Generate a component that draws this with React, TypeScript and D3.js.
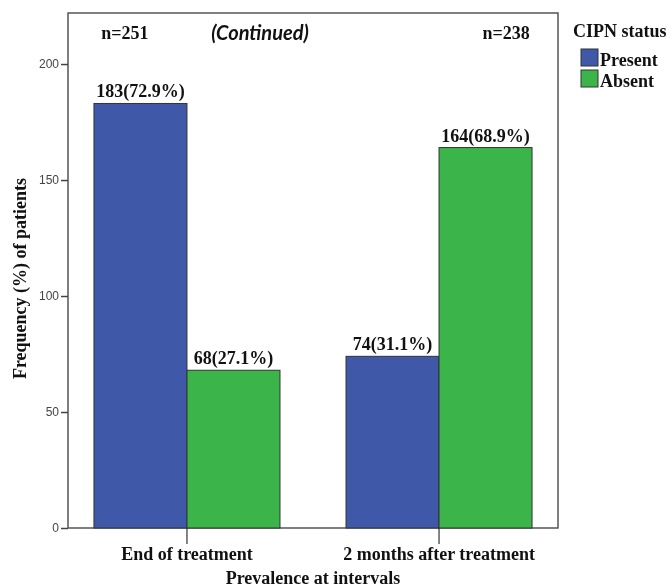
import { useRef, useEffect } from 'react';
import * as d3 from 'd3';

const categories = ['End of treatment', '2 months after treatment'];
const statuses = ['Present', 'Absent'];
const presentCounts = [183, 74];
const absentCounts = [68, 164];
const presentLabels = ['183(72.9%)', '74(31.1%)'];
const absentLabels = ['68(27.1%)', '164(68.9%)'];
const groupTotals = ['n=251', 'n=238'];
const yTicks = [0, 50, 100, 150, 200];
const colors = ['#3F58A8', '#3BB44A'];

const width = 672;
const height = 588;
const margin = { top: 13, right: 114, bottom: 60, left: 68 };

const Chart = () => {
  const svgRef = useRef(null);

  useEffect(() => {
    const svg = d3.select(svgRef.current);
    svg.selectAll('*').remove();

    const innerWidth = width - margin.left - margin.right;
    const innerHeight = height - margin.top - margin.bottom;
    const serif = '"Liberation Serif", "Times New Roman", serif';
    const sans = '"Liberation Sans", Arial, sans-serif';

    const g = svg
      .append('g')
      .attr('transform', `translate(${margin.left}, ${margin.top})`);

    const x0 = d3
      .scaleBand()
      .domain(categories)
      .range([0, innerWidth])
      .paddingInner(0.262)
      .paddingOuter(0.103);

    const x1 = d3
      .scaleBand()
      .domain(statuses)
      .range([0, x0.bandwidth()]);

    const y = d3.scaleLinear().domain([0, 222]).range([innerHeight, 0]);

    // plot frame
    g.append('rect')
      .attr('x', 0)
      .attr('y', 0)
      .attr('width', innerWidth)
      .attr('height', innerHeight)
      .attr('fill', 'white')
      .attr('stroke', '#555')
      .attr('stroke-width', 1.5);

    const rows = categories.map((c, i) => ({
      category: c,
      values: [
        { status: statuses[0], value: presentCounts[i], label: presentLabels[i] },
        { status: statuses[1], value: absentCounts[i], label: absentLabels[i] },
      ],
    }));

    const groups = g
      .selectAll('g.group')
      .data(rows)
      .join('g')
      .attr('class', 'group')
      .attr('transform', (d) => `translate(${x0(d.category)}, 0)`);

    groups
      .selectAll('rect')
      .data((d) => d.values)
      .join('rect')
      .attr('x', (d) => x1(d.status) as number)
      .attr('y', (d) => y(d.value))
      .attr('width', x1.bandwidth())
      .attr('height', (d) => innerHeight - y(d.value))
      .attr('fill', (d, i) => colors[i])
      .attr('stroke', '#333')
      .attr('stroke-width', 1);

    groups
      .selectAll('text.value')
      .data((d) => d.values)
      .join('text')
      .attr('class', 'value')
      .attr('x', (d) => (x1(d.status) as number) + x1.bandwidth() / 2)
      .attr('y', (d) => y(d.value) - 6)
      .attr('text-anchor', 'middle')
      .attr('font-family', serif)
      .attr('font-weight', 'bold')
      .attr('font-size', 18)
      .attr('fill', '#111')
      .text((d) => d.label);

    // n= labels
    g.selectAll('text.total')
      .data(categories)
      .join('text')
      .attr('class', 'total')
      .attr('x', (d, i) =>
        i === 0 ? (x0(d) as number) + x1.bandwidth() / 3 : (x0(d) as number) + x0.bandwidth() - 26
      )
      .attr('y', 26)
      .attr('text-anchor', 'middle')
      .attr('font-family', serif)
      .attr('font-weight', 'bold')
      .attr('font-size', 18)
      .attr('fill', '#111')
      .text((d, i) => groupTotals[i]);

    g.append('text')
      .attr('x', 192)
      .attr('y', 27)
      .attr('text-anchor', 'middle')
      .attr('font-family', 'Lato, sans-serif')
      .attr('font-weight', 'bold')
      .attr('font-style', 'italic')
      .attr('font-size', 20)
      .attr('fill', '#111')
      .text('(Continued)');

    // y axis
    const yAxis = g
      .append('g')
      .call(d3.axisLeft(y).tickValues(yTicks).tickSize(7).tickPadding(2));
    yAxis.select('.domain').remove();
    yAxis.selectAll('line').attr('stroke', '#444').attr('stroke-width', 1.5);
    yAxis
      .selectAll('text')
      .attr('font-family', sans)
      .attr('font-size', 12)
      .attr('fill', '#444');

    // x axis
    const xAxis = g
      .append('g')
      .attr('transform', `translate(0, ${innerHeight})`)
      .call(d3.axisBottom(x0).tickSize(16).tickPadding(3));
    xAxis.select('.domain').remove();
    xAxis.selectAll('line').attr('stroke', '#333').attr('stroke-width', 1.2);
    xAxis
      .selectAll('text')
      .attr('font-family', serif)
      .attr('font-weight', 'bold')
      .attr('font-size', 18)
      .attr('fill', '#111');

    // axis titles
    g.append('text')
      .attr('x', innerWidth / 2)
      .attr('y', innerHeight + 56)
      .attr('text-anchor', 'middle')
      .attr('font-family', serif)
      .attr('font-weight', 'bold')
      .attr('font-size', 18)
      .attr('fill', '#111')
      .text('Prevalence at intervals');

    g.append('text')
      .attr('transform', `translate(${-42}, ${innerHeight / 2 + 8}) rotate(-90)`)
      .attr('text-anchor', 'middle')
      .attr('font-family', serif)
      .attr('font-weight', 'bold')
      .attr('font-size', 18)
      .attr('fill', '#111')
      .text('Frequency (%) of patients');

    // legend
    const legend = svg
      .append('g')
      .attr('transform', `translate(${margin.left + innerWidth + 15}, 0)`);

    legend
      .append('text')
      .attr('x', 0)
      .attr('y', 37)
      .attr('font-family', serif)
      .attr('font-weight', 'bold')
      .attr('font-size', 18)
      .attr('fill', '#111')
      .text('CIPN status');

    const items = legend
      .selectAll('g.item')
      .data(statuses)
      .join('g')
      .attr('class', 'item')
      .attr('transform', (d, i) => `translate(8, ${49 + i * 21})`);

    items
      .append('rect')
      .attr('width', 17)
      .attr('height', 17)
      .attr('fill', (d, i) => colors[i])
      .attr('stroke', '#333')
      .attr('stroke-width', 1);

    items
      .append('text')
      .attr('x', 19)
      .attr('y', 17)
      .attr('font-family', serif)
      .attr('font-weight', 'bold')
      .attr('font-size', 18)
      .attr('fill', '#111')
      .text((d) => d);
  }, []);

  return <svg ref={svgRef} width={width} height={height} style={{ display: 'block' }} />;
};

export default function App() {
  return (
    <div style={{ position: 'fixed', top: 0, left: 0, width, height, overflow: 'hidden' }}>
      <Chart />
    </div>
  );
}
